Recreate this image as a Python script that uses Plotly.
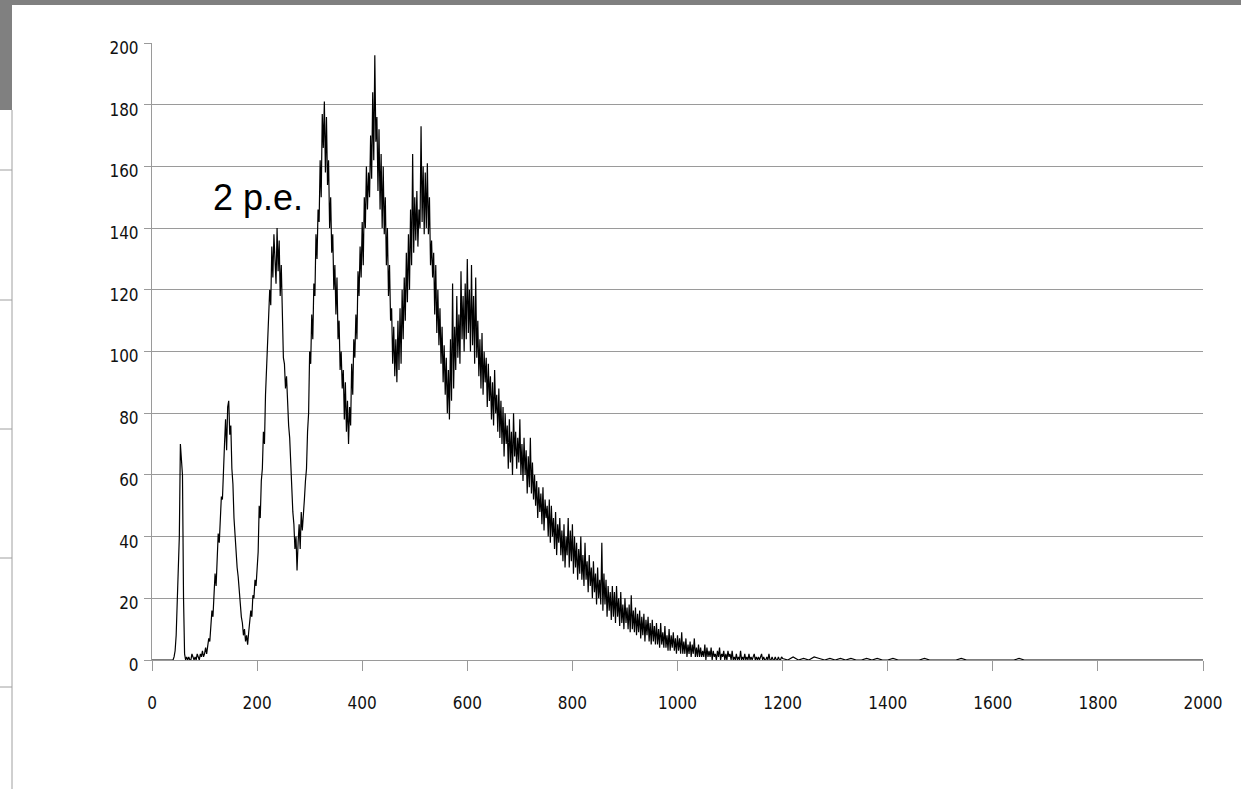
import plotly.graph_objects as go

# Pulse-height spectrum: counts per channel, channels 0..1198 in steps of 2
counts_main = [
    0, 0, 0, 0, 0, 0, 0, 0, 0, 0, 0, 0, 0, 0, 0, 0, 0, 0, 0, 0,
    0, 1, 3, 8, 18, 34, 40, 70, 64, 60, 20, 2, 0, 1, 0, 1, 0, 0, 2, 1,
    0, 1, 0, 2, 1, 0, 2, 1, 3, 1, 2, 4, 2, 5, 7, 6, 10, 16, 14, 20,
    28, 24, 33, 41, 38, 47, 53, 52, 64, 70, 78, 68, 82, 84, 73, 76, 62, 57, 46, 40,
    36, 30, 27, 22, 18, 14, 12, 8, 10, 6, 8, 5, 9, 12, 16, 14, 21, 20, 26, 24,
    32, 35, 50, 46, 58, 62, 74, 70, 86, 96, 100, 112, 120, 115, 134, 124, 138, 130, 122, 140,
    126, 136, 118, 128, 110, 98, 96, 88, 92, 80, 76, 72, 62, 58, 48, 44, 36, 40, 29, 38,
    44, 36, 48, 42, 46, 52, 58, 62, 74, 80, 100, 96, 112, 104, 122, 118, 138, 130, 146, 142,
    162, 150, 177, 166, 181, 158, 176, 154, 162, 140, 150, 132, 138, 120, 128, 112, 124, 104, 110, 94,
    100, 88, 94, 78, 90, 74, 84, 70, 82, 76, 96, 86, 104, 98, 112, 104, 126, 118, 134, 124,
    142, 128, 150, 140, 160, 146, 158, 150, 170, 156, 184, 162, 196, 168, 176, 152, 172, 146, 164, 140,
    160, 138, 150, 128, 140, 118, 128, 110, 114, 96, 108, 92, 104, 90, 110, 94, 114, 96, 120, 104,
    124, 110, 132, 116, 138, 120, 146, 128, 164, 132, 150, 136, 152, 134, 146, 140, 173, 142, 160, 138,
    158, 140, 161, 138, 150, 128, 136, 124, 132, 112, 128, 106, 120, 102, 114, 96, 108, 90, 102, 86,
    98, 80, 94, 78, 104, 84, 122, 88, 108, 94, 118, 98, 112, 96, 126, 104, 118, 100, 122, 104,
    130, 106, 120, 100, 128, 102, 118, 96, 124, 98, 110, 92, 104, 88, 106, 86, 100, 90, 98, 82,
    96, 84, 92, 78, 90, 76, 94, 80, 86, 74, 88, 72, 84, 70, 82, 66, 80, 70, 76, 62,
    78, 64, 74, 60, 80, 66, 74, 62, 72, 64, 78, 60, 70, 58, 72, 60, 68, 54, 66, 56,
    72, 54, 64, 52, 60, 50, 58, 46, 56, 48, 54, 44, 56, 42, 52, 46, 50, 40, 52, 38,
    50, 40, 46, 36, 48, 34, 44, 38, 46, 34, 42, 32, 44, 30, 40, 34, 46, 30, 42, 32,
    44, 28, 40, 30, 38, 26, 36, 28, 40, 26, 34, 24, 38, 26, 32, 22, 34, 24, 30, 20,
    32, 22, 28, 18, 30, 20, 26, 18, 38, 16, 28, 18, 26, 14, 24, 16, 22, 13, 24, 14,
    22, 12, 24, 14, 20, 11, 22, 12, 18, 10, 20, 12, 17, 10, 18, 9, 21, 10, 16, 9,
    17, 8, 15, 9, 16, 7, 14, 8, 15, 6, 13, 8, 14, 6, 12, 5, 13, 6, 11, 5,
    12, 5, 10, 4, 12, 5, 9, 4, 11, 4, 8, 3, 10, 3, 8, 4, 9, 3, 7, 2,
    8, 3, 7, 2, 9, 2, 6, 2, 7, 1, 5, 2, 6, 1, 5, 2, 7, 1, 4, 1,
    5, 1, 4, 1, 3, 1, 5, 0, 4, 1, 3, 1, 4, 0, 3, 1, 2, 0, 3, 1,
    4, 0, 2, 1, 3, 0, 2, 0, 3, 1, 2, 0, 3, 0, 1, 0, 2, 0, 1, 0,
    3, 0, 1, 0, 2, 0, 1, 0, 2, 0, 1, 0, 1, 2, 0, 1, 0, 1, 0, 1,
    2, 0, 1, 0, 0, 1, 0, 2, 0, 0, 1, 0, 0, 1, 0, 0, 1, 0, 0, 1,
]
main_step = 2

# Sparse tail, channels 1200..2000 in steps of 10
counts_tail = [
    0.5, 0, 1, 0, 0.5, 0, 1, 0.5, 0, 0.5,
    0, 0.5, 0, 0.5, 0, 0, 0.5, 0, 0.5, 0,
    0, 0.5, 0, 0, 0, 0, 0, 0.5, 0, 0,
    0, 0, 0, 0, 0.5, 0, 0, 0, 0, 0,
    0, 0, 0, 0, 0, 0.5, 0, 0, 0, 0,
    0, 0, 0, 0, 0, 0, 0, 0, 0, 0,
    0, 0, 0, 0, 0, 0, 0, 0, 0, 0,
    0, 0, 0, 0, 0, 0, 0, 0, 0, 0,
    0,
]
tail_start = 1200
tail_step = 10

x_ticks = [0, 200, 400, 600, 800, 1000, 1200, 1400, 1600, 1800, 2000]
y_ticks = [0, 20, 40, 60, 80, 100, 120, 140, 160, 180, 200]
peak_label = "2 p.e."

channels = [i * main_step for i in range(len(counts_main))]
channels += [tail_start + i * tail_step for i in range(len(counts_tail))]
counts = counts_main + counts_tail

W, H = 1241, 789
L, R, T, B = 152, 38, 43, 129
plot_w = W - L - R
plot_h = H - T - B


def px_x(p):
    return (p - L) / plot_w


def px_y(p):
    return (H - B - p) / plot_h


fig = go.Figure()
fig.add_trace(go.Scatter(
    x=channels, y=counts, mode="lines",
    line=dict(color="#000000", width=1.2),
    showlegend=False, hoverinfo="skip",
))

axis_font = dict(family="DejaVu Sans Condensed, Liberation Sans Narrow, sans-serif",
                 size=17, color="#111111")

fig.update_layout(
    width=W, height=H,
    margin=dict(l=L, r=R, t=T, b=B, pad=0),
    paper_bgcolor="#ffffff", plot_bgcolor="#ffffff",
    xaxis=dict(
        range=[0, 2000], tickvals=x_ticks, ticktext=[str(v) for v in x_ticks],
        showgrid=False, zeroline=False, showline=True, linecolor="#9a9a9a", linewidth=1,
        ticks="outside", ticklen=10, tickcolor="#9a9a9a", tickwidth=1,
        tickfont=axis_font, ticklabelstandoff=18,
    ),
    yaxis=dict(
        range=[0, 200], tickvals=y_ticks, ticktext=[str(v) for v in y_ticks],
        showgrid=True, gridcolor="#9a9a9a", gridwidth=1,
        zeroline=False, showline=True, linecolor="#9a9a9a", linewidth=1,
        ticks="outside", ticklen=7, tickcolor="#9a9a9a", tickwidth=1,
        tickfont=axis_font, ticklabelstandoff=2, ticklabelshift=5,
    ),
    annotations=[dict(
        x=202, y=150, xref="x", yref="y", text=peak_label, showarrow=False,
        font=dict(family="Liberation Sans, Arial, sans-serif", size=36, color="#000000"),
        xanchor="center", yanchor="middle",
    )],
)

# Spreadsheet window frame around the chart
frame_grey = "#808080"
shapes = [
    dict(type="rect", xref="paper", yref="paper",
         x0=px_x(0), x1=px_x(W), y0=px_y(5), y1=px_y(0),
         fillcolor=frame_grey, line=dict(width=0), layer="above"),
    dict(type="rect", xref="paper", yref="paper",
         x0=px_x(0), x1=px_x(12), y0=px_y(110), y1=px_y(0),
         fillcolor=frame_grey, line=dict(width=0), layer="above"),
    dict(type="line", xref="paper", yref="paper",
         x0=px_x(12), x1=px_x(12), y0=px_y(H), y1=px_y(110),
         line=dict(color="#a0a0a0", width=1)),
]
for row_y in [170, 300, 429, 558, 687]:
    shapes.append(dict(type="line", xref="paper", yref="paper",
                       x0=px_x(0), x1=px_x(12), y0=px_y(row_y), y1=px_y(row_y),
                       line=dict(color="#a0a0a0", width=1)))
fig.update_layout(shapes=shapes)

fig.write_html("out.html")
